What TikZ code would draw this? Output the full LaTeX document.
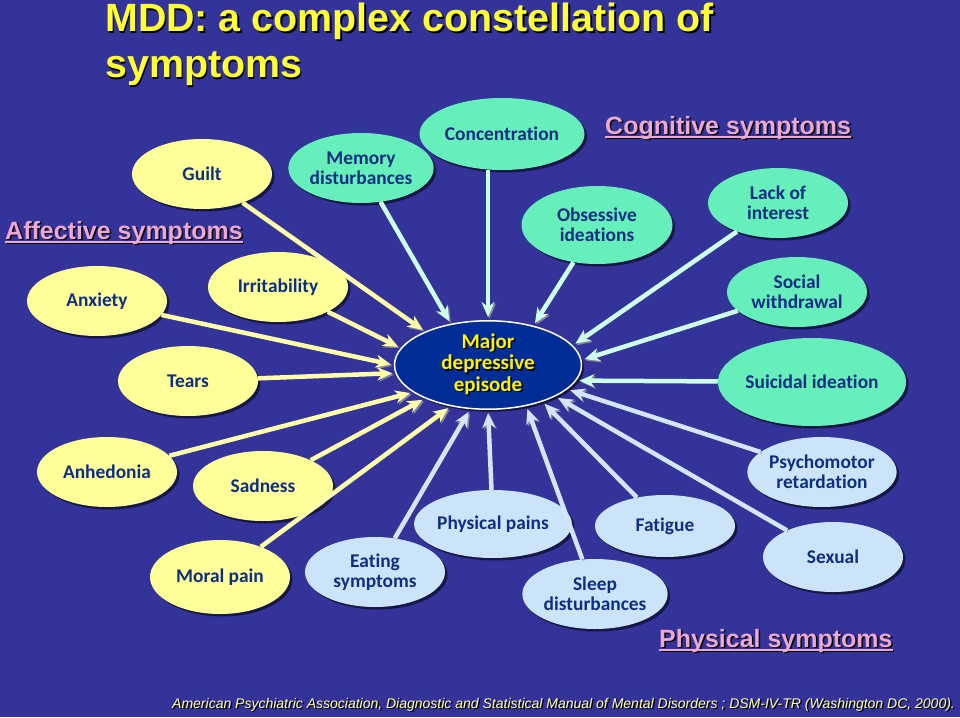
\documentclass[tikz,border=0pt]{standalone}
\usepackage{fontspec}
\setmainfont{Carlito}[Ligatures=NoCommon]
\newfontfamily\arialfont{Liberation Sans}
\usetikzlibrary{shapes.geometric,arrows.meta,shadows}

\definecolor{slidebg}{RGB}{51,51,153}
\definecolor{affcol}{RGB}{255,255,153}
\definecolor{cogcol}{RGB}{102,238,187}
\definecolor{physcol}{RGB}{204,228,250}
\definecolor{labelcol}{RGB}{14,46,132}
\definecolor{mdecol}{RGB}{0,45,150}
\definecolor{headcol}{RGB}{236,168,210}
\definecolor{titlecol}{RGB}{255,255,51}
\definecolor{notecol}{RGB}{255,255,170}
\definecolor{affarr}{RGB}{255,255,170}
\definecolor{cogarr}{RGB}{205,255,235}
\definecolor{physarr}{RGB}{212,230,255}
\definecolor{arrshade}{RGB}{135,135,155}

\newcommand\shad[2][black]{\leavevmode\rlap{\kern1.5pt\raisebox{-1.5pt}{\color{#1}#2}}#2}
\newcommand\ulined[1]{\setbox0\hbox{#1}\rlap{\rule[-3.5pt]{\wd0}{1.8pt}}\box0}

\tikzset{
  symptom/.style={ellipse, minimum width=140pt, minimum height=70pt, inner sep=0pt,
    text=labelcol, align=center, font=\fontsize{19.4}{20}\selectfont\bfseries,
    drop shadow={shadow xshift=2.5pt, shadow yshift=-2.5pt, opacity=0.55, fill=black}},
  affective/.style={symptom, fill=affcol},
  cognitive/.style={symptom, fill=cogcol},
  physical/.style={symptom, fill=physcol},
  heading/.style={inner sep=0pt, text=headcol, font=\arialfont\bfseries\fontsize{25}{28}\selectfont},
  arr/.style={line width=4.5pt, -{Stealth[length=15pt,width=13pt,inset=5pt]}, shorten >=3pt,
    preaction={draw=arrshade, transform canvas={xshift=1.5pt, yshift=-1.5pt}}},
  affarrow/.style={arr, draw=affarr},
  cogarrow/.style={arr, draw=cogarr},
  physarrow/.style={arr, draw=physarr}
}

\begin{document}
\begin{tikzpicture}[x=1pt, y=-1pt]
\useasboundingbox (0,0) rectangle (960,717);
\fill[slidebg] (0,0) rectangle (960,717);

\node[anchor=north west, inner sep=0pt, align=left, text=titlecol,
  font=\arialfont\bfseries\fontsize{39.4}{46}\selectfont] (title) at (105,3)
  {\shad{MDD: a complex constellation of}\\\shad{symptoms}};

\node[heading, anchor=base west] (affhead) at (5,239) {\shad{\ulined{Affective symptoms}}};
\node[heading, anchor=base west] (coghead) at (605,134) {\shad{\ulined{Cognitive symptoms}}};
\node[heading, anchor=base west] (physhead) at (659,647) {\shad{\ulined{Physical symptoms}}};

\node[ellipse, fill=mdecol, draw=white, line width=1.5pt, minimum width=187pt, minimum height=86pt,
  inner sep=0pt, align=center, text=yellow, font=\fontsize{21}{21.5}\selectfont\bfseries,
  drop shadow={shadow xshift=2.5pt, shadow yshift=-2.5pt, opacity=0.6, fill=black}] (mde) at (488,365)
  {\shad{Major}\\\shad{depressive}\\\shad{episode}};

\node[affective] (guilt) at (202,174) {Guilt};
\node[affective] (anxiety) at (97,301) {Anxiety};
\node[affective] (irritability) at (278,287) {Irritability};
\node[affective] (tears) at (188,381) {Tears};
\node[affective] (anhedonia) at (107,472) {Anhedonia};
\node[affective] (sadness) at (263,486) {Sadness};
\node[affective, minimum height=74pt] (moralpain) at (220,577) {Moral pain};

\node[cognitive] (memory) at (361,168) {Memory\\disturbances};
\node[cognitive, minimum width=165pt, minimum height=72pt] (concentration) at (502,134) {Concentration};
\node[cognitive, minimum width=151pt, minimum height=78pt] (obsessive) at (597,225) {Obsessive\\ideations};
\node[cognitive] (lackinterest) at (778,203) {Lack of\\interest};
\node[cognitive] (social) at (797,292) {Social\\withdrawal};
\node[cognitive, minimum width=160pt, minimum height=88pt] (suicidal) at (812,382) {Suicidal ideation};

\node[physical] (psychomotor) at (822,472) {Psychomotor\\retardation};
\node[physical] (sexual) at (833,557) {Sexual};
\node[physical, minimum height=62pt] (fatigue) at (665,526) {Fatigue};
\node[physical, minimum height=68pt] (physpains) at (493,524) {Physical pains};
\node[physical] (sleep) at (595,594) {Sleep\\disturbances};
\node[physical] (eating) at (375,572) {Eating\\symptoms};

\foreach \s/\a in {guilt/152, irritability/169, anxiety/180, tears/185, anhedonia/200, sadness/208, moralpain/228}
    \draw[affarrow] (\s) -- (mde.\a);
\foreach \s/\a in {memory/132, obsessive/41, lackinterest/13, social/3, suicidal/-10}
    \draw[cogarrow] (\s) -- (mde.\a);
\draw[cogarrow] (concentration.south -| mde.north) -- (mde.north);
\foreach \s/\a in {psychomotor/-17, sexual/-25, fatigue/-34, sleep/-47, physpains/-90, eating/-112}
    \draw[physarrow] (\s) -- (mde.\a);

\node[anchor=base west, inner sep=0pt, text=notecol, font=\arialfont\itshape\fontsize{14}{16}\selectfont] (source) at (172,708)
  {\shad{American Psychiatric Association, Diagnostic and Statistical Manual of Mental Disorders ; DSM-IV-TR (Washington DC, 2000).}};
\end{tikzpicture}
\end{document}
